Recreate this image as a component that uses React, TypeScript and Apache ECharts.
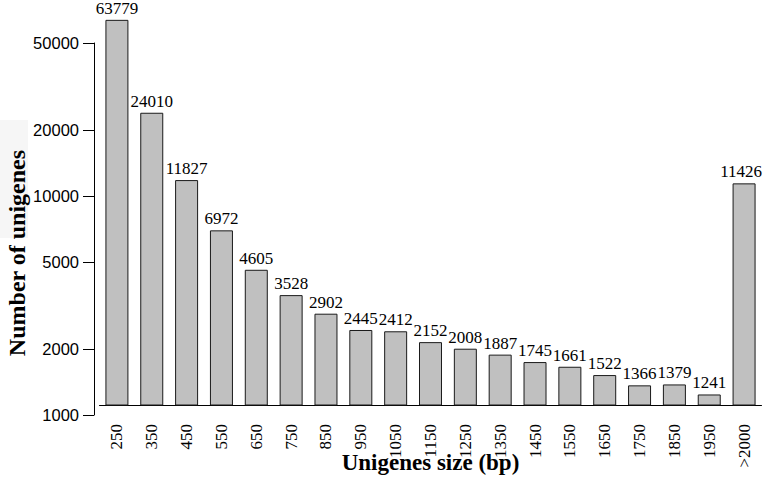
import React, { useEffect, useRef } from "react";
import * as echarts from "echarts";

const categories = ["250", "350", "450", "550", "650", "750", "850", "950", "1050", "1150", "1250", "1350", "1450", "1550", "1650", "1750", "1850", "1950", ">2000"];
const counts = [63779, 24010, 11827, 6972, 4605, 3528, 2902, 2445, 2412, 2152, 2008, 1887, 1745, 1661, 1522, 1366, 1379, 1241, 11426];
const yTicks = [1000, 2000, 5000, 10000, 20000, 50000];

const yTitle = "Number of unigenes";
const xTitle = "Unigenes size (bp)";

export default function App() {
  const ref = useRef<HTMLDivElement>(null);
  useEffect(() => {
    if (!ref.current) return;
    const chart = echarts.init(ref.current, null, { renderer: "svg" });
    const serif = "'Liberation Serif', 'Times New Roman', serif";
    const sans = "'Liberation Sans', Arial, sans-serif";
    const barData = counts.map((v, i) =>
      i === counts.length - 1 ? { value: v, label: { offset: [-3, 0] } } : v
    );
    chart.setOption({
      animation: false,
      backgroundColor: "#ffffff",
      graphic: [
        { type: "rect", z: -10, shape: { x: 0, y: 120, width: 28, height: 118 }, style: { fill: "#f6f6f6" } },
        {
          type: "text",
          x: 17,
          y: 253,
          rotation: Math.PI / 2,
          style: { text: yTitle, font: `bold 24px ${serif}`, fill: "#000", align: "center", verticalAlign: "middle" },
        },
      ],
      grid: [
        { left: 94, top: 43, width: 4, height: 372, containLabel: false, outerBoundsMode: "none" },
        { left: 99.5, right: 1.5, top: 11, bottom: 84, containLabel: false, outerBoundsMode: "none" },
      ],
      xAxis: [
        { gridIndex: 0, type: "category", data: ["a"], show: false },
        {
          gridIndex: 1,
          type: "category",
          data: categories,
          boundaryGap: true,
          name: xTitle,
          nameLocation: "middle",
          nameGap: 46,
          nameMoveOverlap: false,
          nameTextStyle: { fontFamily: serif, fontWeight: "bold", fontSize: 23, color: "#000" },
          axisLine: { lineStyle: { color: "#000", width: 1 } },
          axisTick: { alignWithLabel: true, length: 11, lineStyle: { color: "#000" } },
          axisLabel: { rotate: 90, interval: 0, margin: 19, fontFamily: serif, fontSize: 17, color: "#000" },
        },
      ],
      yAxis: [
        {
          gridIndex: 0,
          type: "log",
          logBase: 10,
          min: 999.99,
          max: 50000.5,
          splitLine: { show: false },
          axisLine: { show: true, lineStyle: { color: "#000", width: 1 } },
          axisTick: { show: true, length: 11, customValues: yTicks, lineStyle: { color: "#000" } },
          axisLabel: {
            customValues: yTicks,
            margin: 15,
            fontFamily: sans,
            fontSize: 16.5,
            color: "#000",
            formatter: (v: number) => String(Math.round(v)),
          },
        },
        {
          gridIndex: 1,
          type: "log",
          logBase: 10,
          min: 1111,
          max: 70000,
          show: false,
          splitLine: { show: false },
        },
      ],
      series: [
        {
          type: "bar",
          xAxisIndex: 1,
          yAxisIndex: 1,
          data: barData,
          barCategoryGap: "34%",
          itemStyle: { color: "#c0c0c0", borderColor: "#1a1a1a", borderWidth: 1 },
          label: {
            show: true,
            position: "top",
            distance: 3,
            fontFamily: serif,
            fontSize: 17,
            color: "#000",
          },
        },
      ],
    });
    return () => chart.dispose();
  }, []);
  return <div ref={ref} style={{ position: "fixed", left: 0, top: 0, width: 763, height: 489 }} />;
}
